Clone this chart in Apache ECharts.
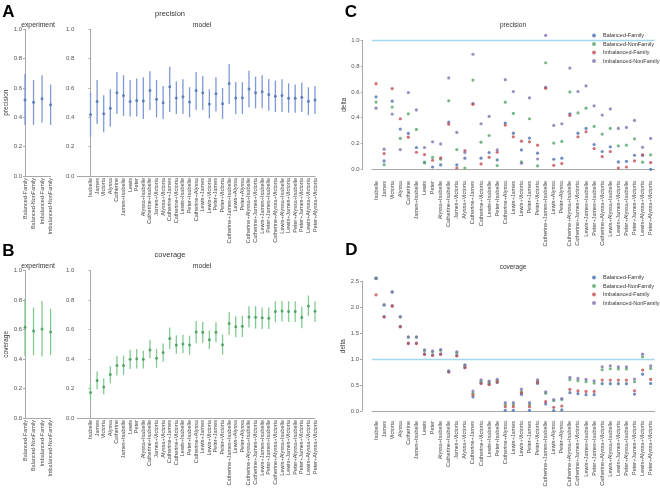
<!DOCTYPE html>
<html><head><meta charset="utf-8">
<script src="https://cdn.jsdelivr.net/npm/echarts@6/dist/echarts.min.js"></script>
<style>html,body{margin:0;padding:0;background:#fff}#c{width:660px;height:488px}</style>
</head><body><div id="c"></div>
<script>
const expCats = ['Balanced-Family','Balanced-NonFamily','Imbalanced-Family','Imbalanced-NonFamily'];
const modelCats = ['Isabelle','James','Victoria','Alyssa','Catherine','James+Isabelle','Lewis','Peter','Alyssa+Isabelle','Catherine+Isabelle','James+Victoria','Alyssa+Victoria','Catherine+James','Catherine+Victoria','Lewis+Isabelle','Peter+Isabelle','Catherine+Alyssa','Lewis+James','Lewis+Victoria','Peter+James','Peter+Victoria','Catherine+James+Isabelle','Lewis+Alyssa','Peter+Alyssa','Catherine+Alyssa+Isabelle','Catherine+James+Victoria','Lewis+James+Isabelle','Peter+James+Isabelle','Catherine+Alyssa+Victoria','Lewis+Alyssa+Isabelle','Lewis+James+Victoria','Peter+Alyssa+Isabelle','Peter+James+Victoria','Lewis+Alyssa+Victoria','Peter+Alyssa+Victoria'];
const groupNames = ['Balanced-Family','Balanced-NonFamily','Imbalanced-Family','Imbalanced-NonFamily'];

// Panel A: precision
const precExpMean = [0.518,0.502,0.527,0.486];
const precExpLow  = [0.348,0.348,0.364,0.348];
const precExpHigh = [0.695,0.655,0.686,0.623];
const precModelMean = [0.42,0.507,0.425,0.461,0.568,0.548,0.507,0.514,0.511,0.582,0.523,0.50,0.609,0.532,0.541,0.505,0.582,0.568,0.491,0.561,0.493,0.630,0.532,0.534,0.593,0.568,0.575,0.555,0.543,0.548,0.53,0.53,0.536,0.509,0.518];
const precModelLow  = [0.268,0.355,0.298,0.336,0.423,0.41,0.405,0.405,0.389,0.45,0.40,0.389,0.436,0.423,0.423,0.40,0.45,0.45,0.393,0.439,0.389,0.49,0.423,0.423,0.468,0.461,0.461,0.445,0.436,0.436,0.432,0.432,0.436,0.414,0.423];
const precModelHigh = [0.57,0.655,0.55,0.591,0.709,0.686,0.655,0.664,0.673,0.714,0.655,0.614,0.745,0.645,0.659,0.605,0.709,0.682,0.591,0.673,0.60,0.764,0.641,0.641,0.718,0.677,0.686,0.661,0.65,0.659,0.632,0.623,0.636,0.605,0.614];

// Panel B: coverage
const covExpMean = [0.616,0.591,0.605,0.584];
const covExpLow  = [0.423,0.427,0.418,0.427];
const covExpHigh = [0.809,0.75,0.795,0.741];
const covModelMean = [0.173,0.255,0.211,0.295,0.357,0.357,0.398,0.402,0.398,0.462,0.405,0.445,0.539,0.495,0.502,0.495,0.584,0.582,0.532,0.582,0.498,0.641,0.62,0.623,0.686,0.684,0.68,0.677,0.723,0.727,0.723,0.723,0.682,0.761,0.725];
const covModelLow  = [0.118,0.195,0.161,0.236,0.289,0.293,0.332,0.336,0.336,0.405,0.341,0.382,0.466,0.436,0.441,0.43,0.507,0.511,0.468,0.514,0.43,0.566,0.548,0.55,0.614,0.607,0.605,0.605,0.65,0.655,0.652,0.652,0.609,0.691,0.652];
const covModelHigh = [0.23,0.316,0.27,0.352,0.423,0.423,0.464,0.468,0.457,0.532,0.468,0.505,0.614,0.561,0.566,0.559,0.659,0.652,0.595,0.65,0.566,0.718,0.691,0.695,0.759,0.759,0.75,0.75,0.793,0.795,0.793,0.793,0.755,0.832,0.793];

// Panel C: precision delta
const cBF  = [0.562,0.065,0.528,0.312,0.278,0.169,0.05,0.018,0.034,0.366,0.034,0.086,0.51,0.086,0.13,0.073,0.358,0.28,0.15,0.242,0.125,0.635,0.078,0.086,0.43,0.28,0.317,0.192,0.138,0.174,0.057,0.062,0.109,0.108,0.0];
const cBNF = [0.521,0.036,0.482,0.239,0.43,0.309,0.055,0.093,0.078,0.531,0.153,0.01,0.692,0.21,0.262,0.029,0.52,0.433,0.057,0.392,0.026,0.826,0.203,0.216,0.6,0.437,0.474,0.332,0.273,0.317,0.182,0.187,0.236,0.055,0.112];
const cIF  = [0.664,0.122,0.626,0.392,0.249,0.132,0.114,0.07,0.088,0.35,0.01,0.145,0.504,0.042,0.093,0.132,0.343,0.252,0.218,0.213,0.187,0.628,0.031,0.044,0.418,0.252,0.291,0.161,0.099,0.138,0.01,0.018,0.065,0.112,0.052];
const cINF = [0.474,0.156,0.428,0.153,0.595,0.46,0.169,0.213,0.197,0.708,0.286,0.13,0.892,0.353,0.41,0.15,0.695,0.603,0.047,0.554,0.08,1.038,0.34,0.353,0.785,0.603,0.646,0.492,0.42,0.468,0.317,0.325,0.379,0.171,0.239];

// Panel D: coverage delta
const dBF  = [2.56,1.82,2.03,1.63,1.31,1.31,1.10,1.08,1.10,0.76,1.07,0.84,0.27,0.54,0.52,0.55,0.013,0.013,0.32,0.013,0.53,0.135,0.01,0.02,0.353,0.333,0.314,0.314,0.526,0.526,0.526,0.526,0.327,0.71,0.532];
const dBNF = [2.55,2.04,2.30,1.81,1.42,1.42,1.16,1.14,1.17,0.77,1.12,0.88,0.34,0.575,0.55,0.585,0.125,0.125,0.37,0.125,0.57,0.34,0.2,0.22,0.603,0.583,0.564,0.538,0.795,0.814,0.81,0.81,0.564,1.045,0.82];
const dIF  = [2.24,1.81,2.02,1.62,1.30,1.30,1.09,1.07,1.09,0.75,1.06,0.835,0.31,0.53,0.51,0.56,0.083,0.083,0.35,0.083,0.55,0.18,0.07,0.096,0.417,0.39,0.378,0.378,0.596,0.596,0.596,0.596,0.39,0.79,0.609];
const dINF = [2.56,2.05,2.29,1.82,1.43,1.43,1.18,1.155,1.185,0.77,1.14,0.89,0.385,0.60,0.575,0.61,0.16,0.16,0.42,0.16,0.60,0.37,0.22,0.24,0.647,0.628,0.609,0.583,0.853,0.872,0.853,0.853,0.615,1.096,0.872];

const FONT = '"Liberation Sans", Arial, sans-serif';
const AX = '#a8a8a8';
const groupColors = ['#4c72b0','#55a868','#c44e52','#8172b2'];

function yAxis(grid, min, max, interval, name, offset) {
  return {
    gridIndex: grid, type: 'value', min: min, max: max, interval: interval, offset: offset || 0,
    name: name || '', nameLocation: 'middle', nameGap: 14,
    nameTextStyle: {fontSize: 6.5, color: '#333', fontFamily: FONT},
    axisLine: {show: true, lineStyle: {color: AX, width: 1}},
    axisTick: {show: true, length: 2, lineStyle: {color: AX}},
    axisLabel: {fontSize: 6, color: '#555', margin: 3, fontFamily: FONT, formatter: v => v.toFixed(1)},
    splitLine: {show: false}
  };
}
function xValAxis(grid, cats, min, max) {
  return {
    gridIndex: grid, type: 'value', min: min, max: max, interval: 1,
    axisLine: {show: true, lineStyle: {color: AX, width: 1}},
    axisTick: {show: false},
    axisLabel: {rotate: 90, fontSize: 5.5, color: '#444', margin: 2, fontFamily: FONT,
      formatter: v => { const i = Math.round(v); return (i >= 0 && i < cats.length) ? cats[i] : ''; }},
    splitLine: {show: false}
  };
}
function xCatAxis(grid, cats, offset) {
  return {
    gridIndex: grid, type: 'category', data: cats, boundaryGap: true, offset: offset,
    axisLine: {show: true, lineStyle: {color: AX, width: 1}},
    axisTick: {show: false},
    axisLabel: {interval: 0, rotate: 90, fontSize: 5.5, color: '#444', margin: 2, fontFamily: FONT},
    splitLine: {show: false}
  };
}
function errBars(axis, low, high, color) {
  return {
    type: 'custom', xAxisIndex: axis, yAxisIndex: axis, silent: true,
    data: low.map((l, i) => [i, l, high[i]]),
    encode: {x: 0, y: [1, 2]},
    renderItem: function (params, api) {
      const a = api.coord([api.value(0), api.value(1)]);
      const b = api.coord([api.value(0), api.value(2)]);
      return {type: 'line', shape: {x1: a[0], y1: a[1], x2: b[0], y2: b[1]},
        style: {stroke: color, lineWidth: 1.3}};
    }
  };
}
function means(axis, vals, color) {
  return {type: 'scatter', xAxisIndex: axis, yAxisIndex: axis, silent: true,
    data: vals.map((v, i) => [i, v]), symbol: 'circle', symbolSize: 3,
    itemStyle: {color: color}, z: 5};
}
function deltaSeries(axis, arrays) {
  return arrays.map((arr, k) => {
    const s = {type: 'scatter', name: groupNames[k], xAxisIndex: axis, yAxisIndex: axis,
      data: arr, symbol: 'circle', symbolSize: 3.2, clip: false,
      itemStyle: {color: groupColors[k]}};
    if (k === 0) {
      s.markLine = {silent: true, symbol: 'none', label: {show: false},
        lineStyle: {color: '#a3d8ea', width: 1.4, type: 'solid'}, data: [{yAxis: 1}]};
    }
    return s;
  });
}
function txt(x, y, s, size, bold, color) {
  return {type: 'text', x: x, y: y, style: {text: s, textAlign: 'center', textVerticalAlign: 'middle',
    font: (bold ? 'bold ' : '') + size + 'px ' + FONT, fill: color || '#333'}};
}

const grids = [
  {left: 25, top: 29.3, width: 25.6, height: 146.7},
  {left: 77.3, top: 29.3, width: 237.7, height: 146.7},
  {left: 25, top: 270.7, width: 25.6, height: 147.3},
  {left: 77.3, top: 270.7, width: 237.7, height: 147.3},
  {left: 372, top: 40.3, width: 282.7, height: 129},
  {left: 372, top: 281.3, width: 282.7, height: 129.7}
].map(g => Object.assign({outerBoundsMode: 'none', containLabel: false}, g));

const legendBase = {data: groupNames, orient: 'vertical', left: 592, itemWidth: 4, itemHeight: 4,
  itemGap: 2.5, icon: 'circle', padding: 0, selectedMode: false,
  textStyle: {fontSize: 5.5, color: '#333', fontFamily: FONT, padding: [0, 0, 0, 2]}};

const option = {
  animation: false,
  backgroundColor: '#fff',
  textStyle: {fontFamily: FONT},
  grid: grids,
  xAxis: [
    xValAxis(0, expCats, 0, 3),
    xValAxis(1, modelCats, -2, 34),
    xValAxis(2, expCats, 0, 3),
    xValAxis(3, modelCats, -2, 34),
    xCatAxis(4, modelCats, 9.7),
    xCatAxis(5, modelCats, 8)
  ],
  yAxis: [
    yAxis(0, 0, 1, 0.2, 'precision'),
    yAxis(1, 0, 1, 0.2),
    yAxis(2, 0, 1, 0.2, 'coverage'),
    yAxis(3, 0, 1, 0.2),
    yAxis(4, 0, 1, 0.2, 'delta', 9.3),
    yAxis(5, 0, 2.5, 0.5, 'delta', 10)
  ],
  legend: [
    Object.assign({}, legendBase, {top: 32.5}),
    Object.assign({}, legendBase, {top: 274.5})
  ],
  graphic: [
    txt(8.5, 12, 'A', 17, true, '#000'),
    txt(8.5, 251, 'B', 17, true, '#000'),
    txt(351, 12, 'C', 17, true, '#000'),
    txt(351.5, 250, 'D', 17, true, '#000'),
    txt(170, 13.5, 'precision', 7.5),
    txt(38, 25, 'experiment', 6.8),
    txt(202, 25, 'model', 6.8),
    txt(170, 255, 'coverage', 7.5),
    txt(38, 266.5, 'experiment', 6.8),
    txt(202, 266.5, 'model', 6.8),
    txt(513, 25, 'precision', 6.5),
    txt(513, 267.5, 'coverage', 6.5)
  ],
  series: [
    errBars(0, precExpLow, precExpHigh, '#7e99d6'),
    means(0, precExpMean, '#4c72b0'),
    errBars(1, precModelLow, precModelHigh, '#7e99d6'),
    means(1, precModelMean, '#4c72b0'),
    errBars(2, covExpLow, covExpHigh, '#84c993'),
    means(2, covExpMean, '#3f9a56'),
    errBars(3, covModelLow, covModelHigh, '#84c993'),
    means(3, covModelMean, '#3f9a56')
  ].concat(deltaSeries(4, [cBF, cBNF, cIF, cINF]))
   .concat(deltaSeries(5, [dBF, dBNF, dIF, dINF]))
};

const chart = echarts.init(document.getElementById('c'), null, {renderer: 'canvas'});
chart.setOption(option);
</script>
</body></html>
